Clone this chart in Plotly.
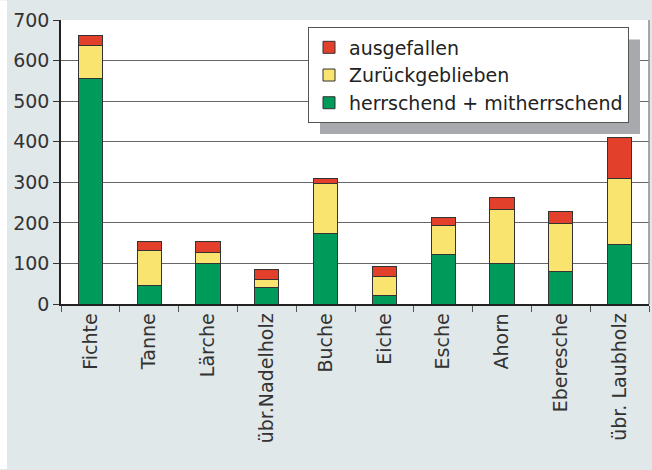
import plotly.graph_objects as go

categories = ["Fichte", "Tanne", "Lärche", "übr.Nadelholz", "Buche", "Eiche",
              "Esche", "Ahorn", "Eberesche", "übr. Laubholz"]
herrschend = [556, 45, 99, 40, 175, 21, 122, 99, 79, 147]
zurueckgeblieben = [81, 87, 28, 21, 121, 48, 72, 134, 120, 163]
ausgefallen = [24, 21, 26, 24, 14, 24, 20, 29, 29, 101]
y_ticks = [0, 100, 200, 300, 400, 500, 600, 700]

FONT = "DejaVu Sans"
line = dict(color="#333333", width=1)

fig = go.Figure()
fig.add_trace(go.Bar(x=categories, y=herrschend, name="herrschend + mitherrschend",
                     marker=dict(color="#009a5a", line=line), width=0.41))
fig.add_trace(go.Bar(x=categories, y=zurueckgeblieben, name="Zurückgeblieben",
                     marker=dict(color="#f9e46f", line=line), width=0.41))
fig.add_trace(go.Bar(x=categories, y=ausgefallen, name="ausgefallen",
                     marker=dict(color="#e3402c", line=line), width=0.41))

L, R, T, B = 61, 3, 19.5, 165.5
W, H = 652, 470
pw, ph = W - L - R, H - T - B

def px(x):
    return (x - L) / pw

def py(y):
    return 1 - (y - T) / ph

LEG_X, LEG_Y = 308, 27
LEG_W, LEG_H = 320, 95
SH = 12

shapes = [
    # legend shadow
    dict(type="rect", xref="paper", yref="paper", x0=px(LEG_X + SH), x1=px(LEG_X + LEG_W + SH),
         y0=py(LEG_Y + LEG_H + SH), y1=py(LEG_Y + SH), fillcolor="#a7a9ac",
         line=dict(width=0), layer="above"),
    # right frame
    dict(type="line", xref="paper", yref="paper", x0=1, x1=1, y0=0, y1=1,
         line=dict(color="#8c8c8c", width=1.5), layer="above"),
    # white strip on left edge
    dict(type="rect", xref="paper", yref="paper", x0=px(0), x1=px(7),
         y0=py(470), y1=py(0), fillcolor="white", line=dict(width=0), layer="below"),
]

fig.update_layout(
    width=W, height=H,
    margin=dict(l=L, r=R, t=T, b=B, pad=0),
    barmode="stack",
    paper_bgcolor="#e1e8ea",
    plot_bgcolor="white",
    font=dict(family=FONT, size=19, color="#333333"),
    showlegend=True,
    legend=dict(x=px(LEG_X), y=py(LEG_Y), xanchor="left", yanchor="top",
                bgcolor="white", bordercolor="#555555", borderwidth=1,
                traceorder="reversed", font=dict(family=FONT, size=19, color="#222222"),
                tracegroupgap=0),
    shapes=shapes,
    xaxis=dict(type="category", showline=True, linecolor="#222222", linewidth=1.5,
               ticks="outside", tickson="boundaries", ticklen=6, tickcolor="#555555",
               tickangle=-90, showgrid=False, tickfont=dict(family=FONT, size=19, color="#333333")),
    yaxis=dict(range=[0, 700], tickvals=y_ticks, showline=True, linecolor="#222222", linewidth=1.5,
               ticks="outside", ticklen=6, tickcolor="#333333",
               showgrid=True, gridcolor="#666666", gridwidth=1, zeroline=False,
               tickfont=dict(family=FONT, size=19, color="#333333")),
)

fig.write_html("out.html", config={"displayModeBar": False},
               post_script="document.body.style.margin='0';document.body.style.overflow='hidden';")
